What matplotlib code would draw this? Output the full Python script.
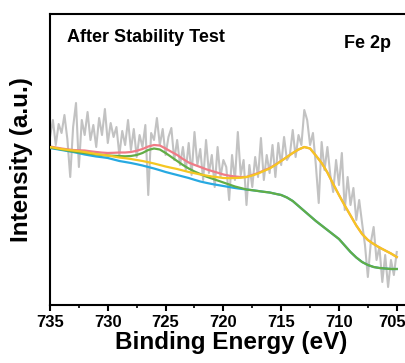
import matplotlib
matplotlib.use("Agg")
import matplotlib.pyplot as plt
from matplotlib.ticker import MultipleLocator
from matplotlib.transforms import ScaledTranslation

plt.rcParams['font.family'] = ['Liberation Sans', 'DejaVu Sans']

# ---- data ----
raw_energy = [
    735.00, 734.75, 734.50, 734.25, 734.00, 733.75, 733.50, 733.25, 733.00, 732.75, 732.50, 732.25,
    732.00, 731.75, 731.50, 731.25, 731.00, 730.75, 730.50, 730.25, 730.00, 729.75, 729.50, 729.25,
    729.00, 728.75, 728.50, 728.25, 728.00, 727.75, 727.50, 727.25, 727.00, 726.75, 726.50, 726.25,
    726.00, 725.75, 725.50, 725.25, 725.00, 724.75, 724.50, 724.25, 724.00, 723.75, 723.50, 723.25,
    723.00, 722.75, 722.50, 722.25, 722.00, 721.75, 721.50, 721.25, 721.00, 720.75, 720.50, 720.25,
    720.00, 719.75, 719.50, 719.25, 719.00, 718.75, 718.50, 718.25, 718.00, 717.75, 717.50, 717.25,
    717.00, 716.75, 716.50, 716.25, 716.00, 715.75, 715.50, 715.25, 715.00, 714.75, 714.50, 714.25,
    714.00, 713.75, 713.50, 713.25, 713.00, 712.75, 712.50, 712.25, 712.00, 711.75, 711.50, 711.25,
    711.00, 710.75, 710.50, 710.25, 710.00, 709.75, 709.50, 709.25, 709.00, 708.75, 708.50, 708.25,
    708.00, 707.75, 707.50, 707.25, 707.00, 706.75, 706.50, 706.25, 706.00, 705.75, 705.50, 705.25,
    705.00]
raw_intensity = [
    168, 185, 160, 181, 172, 190, 166, 128, 178, 202, 138, 185,
    170, 193, 165, 180, 158, 187, 170, 196, 162, 182, 168, 178,
    150, 174, 160, 185, 155, 176, 148, 170, 158, 180, 110, 172,
    165, 187, 160, 176, 150, 168, 177, 145, 165, 140, 158, 135,
    162, 130, 173, 140, 156, 125, 165, 132, 150, 118, 158, 128,
    145, 138, 105, 150, 125, 173, 130, 145, 100, 140, 118, 148,
    128, 167, 125, 150, 132, 160, 128, 162, 140, 168, 145, 150,
    175, 148, 170, 160, 195, 185, 160, 172, 140, 102, 163, 135,
    158, 130, 113, 145, 120, 152, 95, 128, 100, 117, 85, 105,
    82, 60, 28, 62, 78, 45, 58, 23, 50, 18, 45, 30,
    53]

fit_energy = [
    735.0, 734.5, 734.0, 733.5, 733.0, 732.5, 732.0, 731.5, 731.0, 730.5, 730.0,
    729.5, 729.0, 728.5, 728.0, 727.5, 727.0, 726.5, 726.0, 725.5, 725.0,
    724.5, 724.0, 723.5, 723.0, 722.5, 722.0, 721.5, 721.0, 720.5, 720.0,
    719.5, 719.0, 718.5, 718.0, 717.5, 717.0, 716.5, 716.0, 715.5, 715.0,
    714.5, 714.0, 713.5, 713.0, 712.5, 712.0, 711.5, 711.0, 710.5, 710.0,
    709.5, 709.0, 708.5, 708.0, 707.5, 707.0, 706.5, 706.0, 705.5, 705.0]
background = [
    157, 156, 155, 154, 153, 151.8, 150.5, 149.5, 148.5, 147.8, 147,
    145.5, 144, 143, 142, 140.8, 139.5, 138, 136.5, 134.8, 133,
    131.5, 130, 128.5, 127, 125.2, 123.5, 122.2, 121, 120, 119,
    118, 117, 116.2, 115.5, 114.8, 114, 113.2, 112.5, 111.2, 110,
    107.5, 104, 99, 94, 89, 84, 79.5, 75, 70.5, 66,
    59.5, 53, 47.5, 43, 40, 38, 37, 36.5, 36, 36]
peak_2p12 = [
    157.5, 156.5, 155.5, 154.5, 153.5, 152.7, 152, 151.2, 150.5, 150, 149.5,
    149.2, 149, 148.7, 149, 150, 152, 155, 156.5, 155.5, 152,
    148, 144, 140, 136.5, 133.5, 131, 128.5, 126.5, 124.5, 122.5,
    120.5, 118.5, 117, 115.5, 114.8, 114, 113.2, 112.5, 111.2, 110,
    107.5, 104, 99, 94, 89, 84, 79.5, 75, 70.5, 66,
    59.5, 53, 47.5, 43, 40, 38, 37, 36.5, 36, 36]
peak_2p32 = [
    158, 157, 156, 155.2, 154.5, 153.8, 153, 152, 151, 150.2, 149.5,
    148.5, 147.5, 146.8, 146, 145, 144, 142.8, 141.5, 140, 138.5,
    137.2, 136, 134.5, 133, 131.8, 130.5, 129.5, 128.5, 127.8, 127,
    126.8, 127, 127.2, 128, 129.5, 131.5, 134, 136.5, 140, 144,
    148, 152, 155.5, 158, 156.5, 149.5, 142, 132.5, 121, 110,
    99.5, 89.5, 79.5, 71, 65, 61, 57.5, 54.5, 51.5, 48]
envelope = [
    158.5, 157.5, 156.5, 155.7, 155, 154.7, 154.5, 153.7, 153, 152.4, 152,
    152.2, 152.5, 152.5, 153, 154.2, 156, 158.5, 160, 159.5, 156.5,
    153.2, 150, 146, 142.5, 140.1, 138, 135.8, 134, 132.3, 130.5,
    129.3, 128.5, 128, 128, 130, 132, 134.5, 137, 140.3, 144.2,
    148, 152, 155.5, 158, 156.5, 149.5, 142, 132.5, 121, 110,
    99.5, 89.5, 79.5, 71, 65, 61, 57.5, 54.5, 51.5, 48]

x_ticks = [735, 730, 725, 720, 715, 710, 705]

# ---- figure ----
fig = plt.figure(figsize=(4.06, 3.63), dpi=100)
ax = fig.add_axes([50 / 406, 1 - 305 / 363, 1 - 50 / 406, (305 - 14) / 363])

ax.plot(raw_energy, raw_intensity, color='#c2c2c2', lw=1.5, zorder=1)
ax.plot(fit_energy, envelope, color='#f07b86', lw=1.6, zorder=2)
ax.plot(fit_energy, background, color='#27a9e1', lw=1.6, zorder=3)
ax.plot(fit_energy, peak_2p12, color='#62ad46', lw=1.6, zorder=4)
ax.plot(fit_energy, peak_2p32, color='#f5c722', lw=1.6, zorder=5)

ax.set_xlim(735, 704.2)
ax.set_ylim(0, 291)
ax.set_xticks(x_ticks)
ax.set_xticklabels([str(t) for t in x_ticks])
ax.xaxis.set_minor_locator(MultipleLocator(2.5))
ax.set_yticks([])

for s in ['left', 'top', 'bottom']:
    ax.spines[s].set_linewidth(1.5)
ax.spines['right'].set_visible(False)

ax.tick_params(axis='x', which='major', direction='out', length=4, width=1.5,
               pad=3.5, labelsize=12)
ax.tick_params(axis='x', which='minor', direction='out', length=2.5, width=1.2)
labels = ax.get_xticklabels()
for lab in labels:
    lab.set_fontweight('bold')
# keep the last label inside the figure edge
last = labels[-1]
last.set_transform(last.get_transform() + ScaledTranslation(-4.5 / 100, 0, fig.dpi_scale_trans))

ax.text((67 - 50) / 356, (305 - 38) / 291, 'After Stability Test', transform=ax.transAxes,
        ha='left', va='center', fontsize=13, fontweight='bold')
ax.text((391 - 50) / 356, (305 - 43) / 291, 'Fe 2p', transform=ax.transAxes,
        ha='right', va='center', fontsize=13, fontweight='bold')

fig.text(231 / 406, 1 - 342 / 363, 'Binding Energy (eV)', ha='center', va='center',
         fontsize=17.5, fontweight='bold')
fig.text(22 / 406, 1 - 160 / 363, 'Intensity (a.u.)', ha='center', va='center',
         rotation=90, fontsize=17.5, fontweight='bold')

fig.savefig('out.png', dpi=100)
